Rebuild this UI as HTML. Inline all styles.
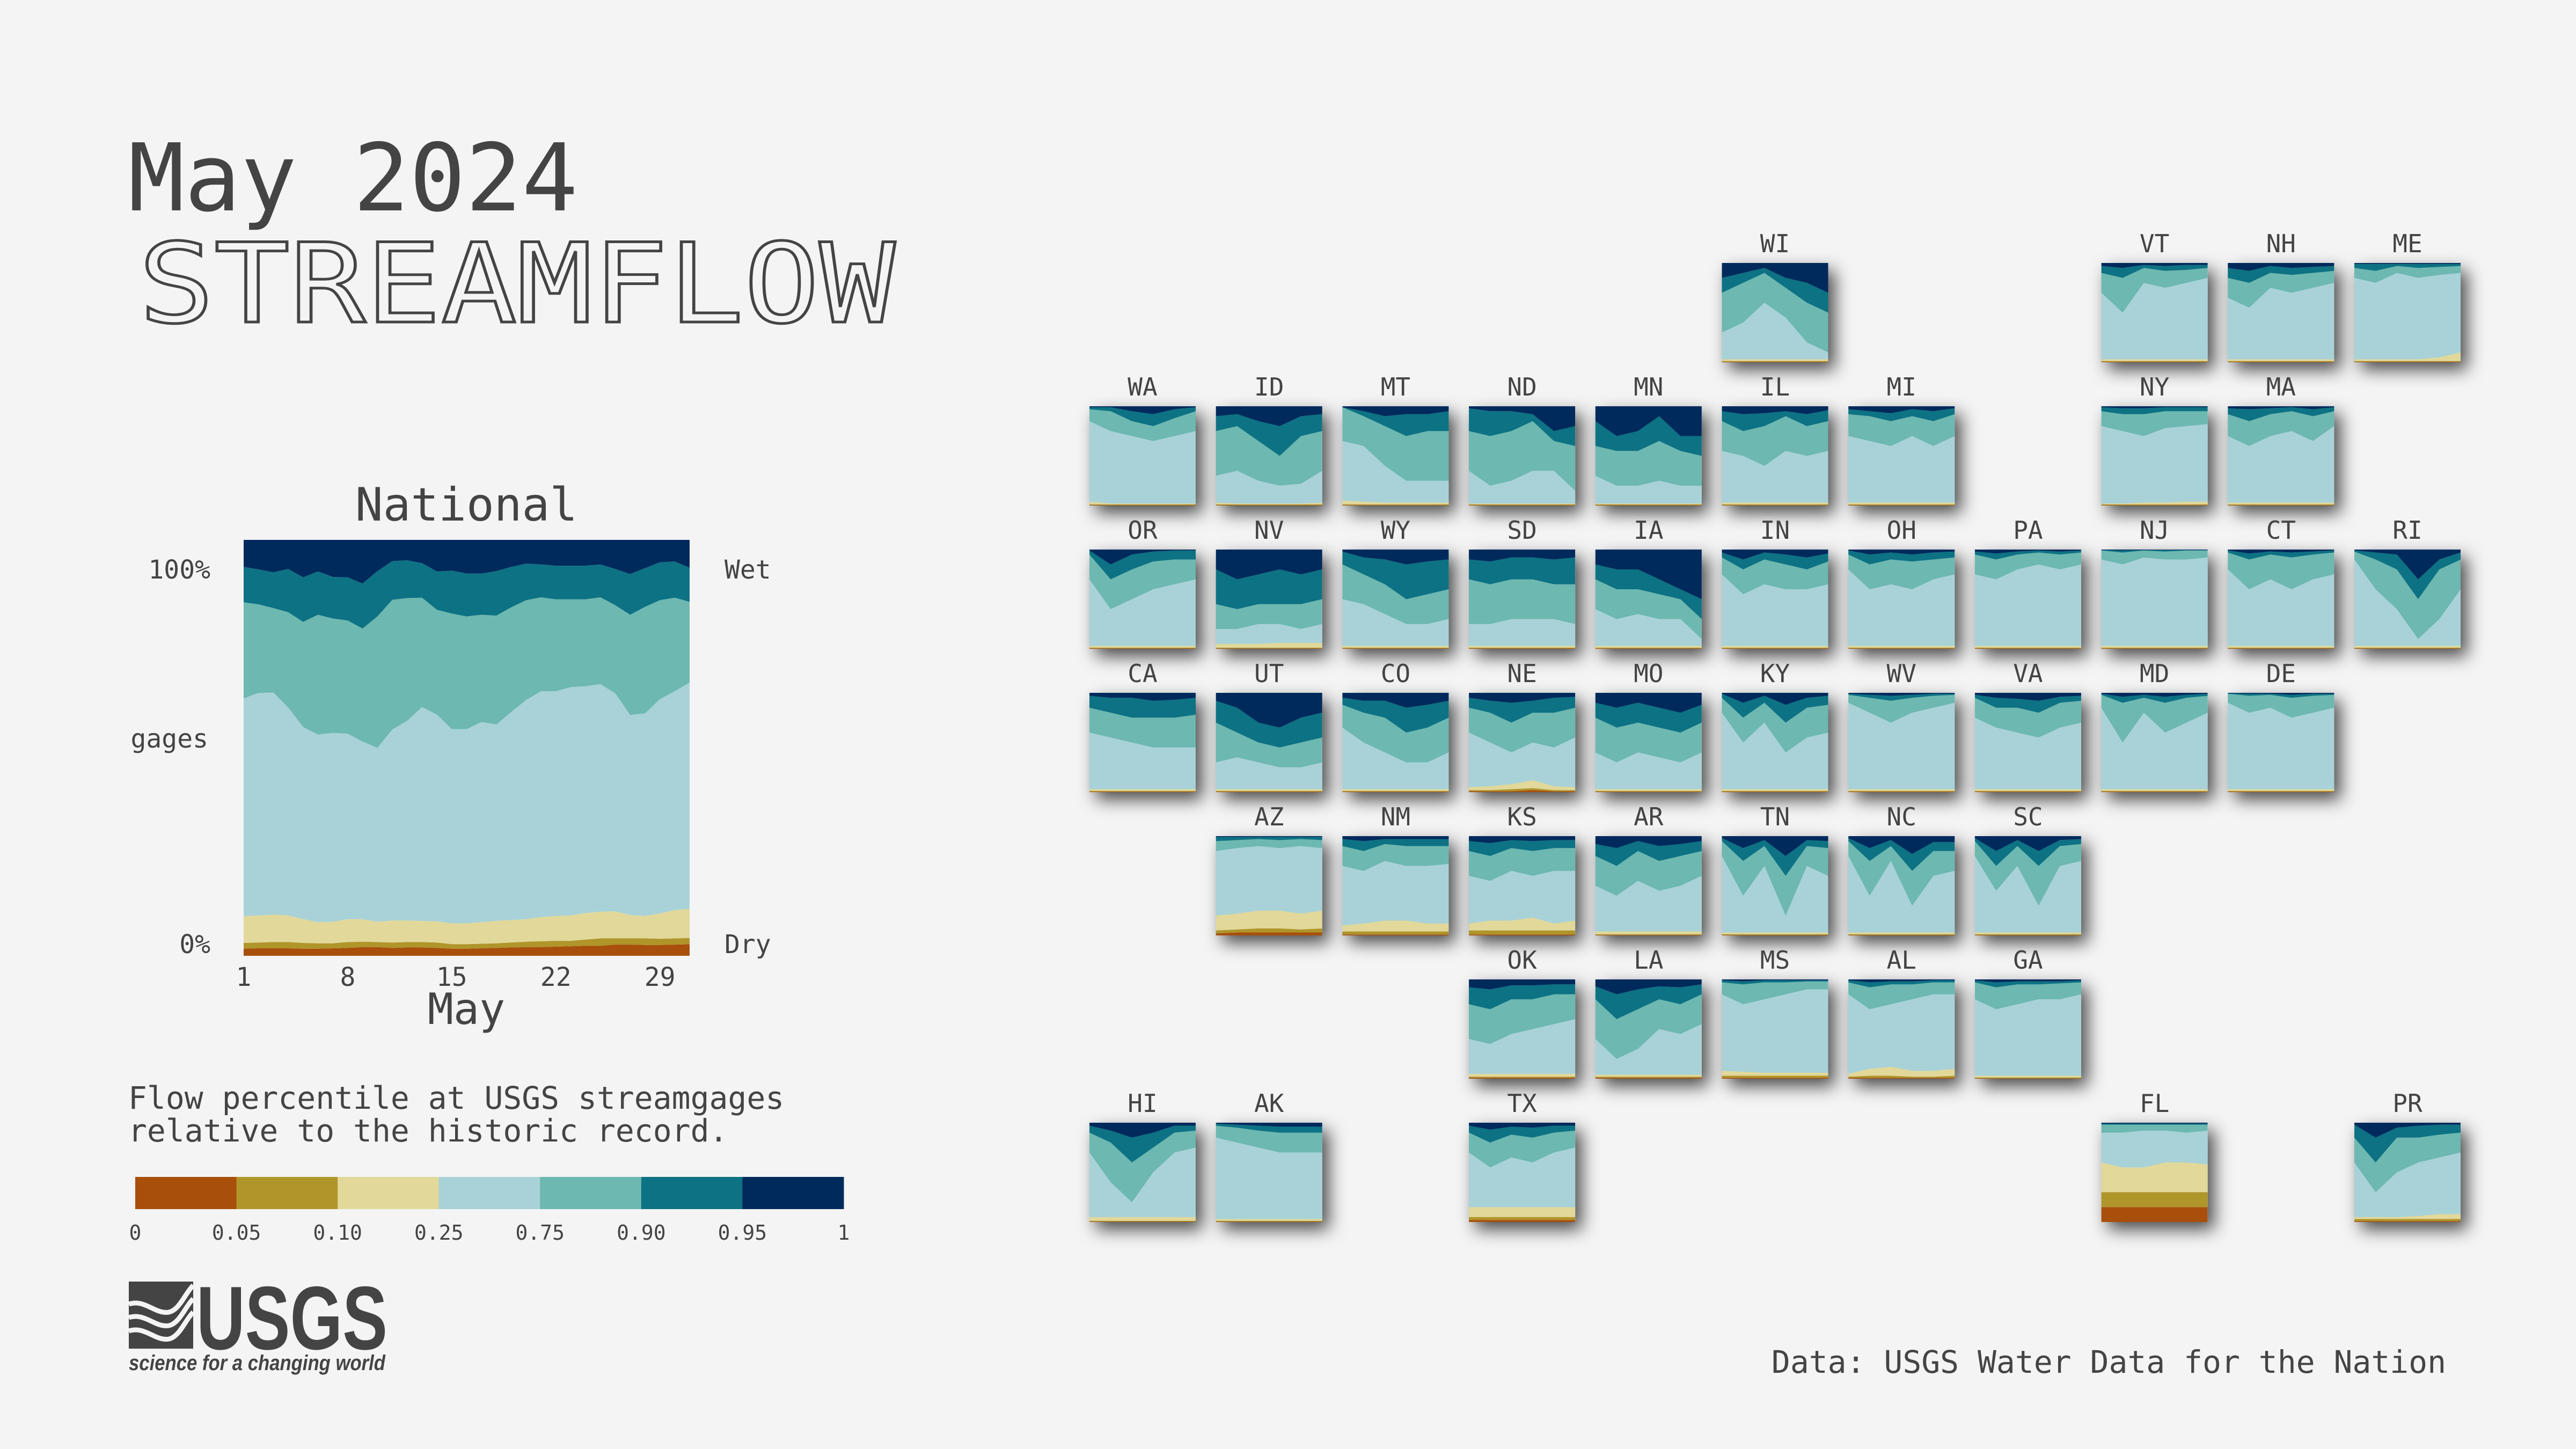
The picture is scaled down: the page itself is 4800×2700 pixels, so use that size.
<!DOCTYPE html>
<html><head><meta charset="utf-8"><style>
html,body{margin:0;padding:0;background:#f4f4f4;}
svg{display:block;}
text{font-family:"DejaVu Sans Mono","Liberation Mono",monospace;fill:#444;}
</style></head><body>
<svg id="root" width="4800" height="2700" viewBox="0 0 4800 2700" xmlns="http://www.w3.org/2000/svg">
<defs>
<filter id="sh" x="-30%" y="-30%" width="170%" height="170%">
<feDropShadow dx="12" dy="14" stdDeviation="16" flood-color="#000" flood-opacity="0.7"/>
</filter>
</defs>
<rect x="0" y="0" width="4800" height="2700" fill="#f4f4f4"/>
<text x="239" y="392" font-size="174">May 2024</text>
<text x="258" y="600" font-size="205" textLength="1410" lengthAdjust="spacingAndGlyphs" style="fill:none;stroke:#444;stroke-width:5">STREAMFLOW</text>
<g id="national"></g>
<text x="869" y="970" font-size="86" text-anchor="middle">National</text>
<text x="392" y="1078" font-size="48" text-anchor="end">100%</text>
<text x="388" y="1393" font-size="48" text-anchor="end">gages</text>
<text x="392" y="1776" font-size="48" text-anchor="end">0%</text>
<text x="1350" y="1078" font-size="48">Wet</text>
<text x="1350" y="1776" font-size="48">Dry</text>
<g id="xticks"></g>
<text x="869" y="1908" font-size="80" text-anchor="middle">May</text>
<text x="239" y="2066" font-size="58">Flow percentile at USGS streamgages</text>
<text x="239" y="2127" font-size="58">relative to the historic record.</text>
<g id="colorbar"></g>
<g>
<rect x="240" y="2388" width="120" height="125" fill="#444"/>
<path d="M240 2430 C270 2420 290 2450 315 2445 C335 2440 345 2410 360 2395 M240 2455 C270 2445 290 2475 315 2470 C335 2465 345 2435 360 2420 M240 2480 C270 2470 290 2500 315 2495 C335 2490 345 2460 360 2445" stroke="#f4f4f4" stroke-width="9" fill="none"/>
<text x="366" y="2514" font-size="168" font-weight="bold" textLength="356" lengthAdjust="spacingAndGlyphs" style="font-family:'Liberation Sans',sans-serif;">USGS</text>
<text x="240" y="2553" font-size="40" font-style="italic" font-weight="bold" textLength="478" lengthAdjust="spacingAndGlyphs" style="font-family:'Liberation Sans',sans-serif;">science for a changing world</text>
</g>
<text x="4558" y="2558" font-size="58" text-anchor="end">Data: USGS Water Data for the Nation</text>
<g id="tiles"></g>
</svg>
<script>
const NS="http://www.w3.org/2000/svg";
const colors=["#a84f0c","#b0952a","#e1d89a","#a8d2d8","#6db8b0","#0d7283","#002a5c"];
const classLabels=["0","0.05","0.10","0.25","0.75","0.90","0.95","1"];
const xTickDays=[1,8,15,22,29];
// National cumulative boundaries (% of gages) for days 1..31
const natB05=[1.7,1.8,1.8,1.8,1.7,1.7,1.8,1.9,2.1,2.1,1.9,2.0,2.0,1.9,1.7,1.7,1.8,1.9,2.0,2.1,2.1,2.2,2.3,2.4,2.4,2.7,2.7,2.6,2.6,2.7,2.8];
const natB10=[3.1,3.2,3.3,3.3,3.1,3.0,3.0,3.3,3.4,3.3,3.2,3.3,3.3,3.2,2.8,2.8,2.9,3.0,3.2,3.4,3.5,3.6,3.6,3.9,4.2,4.2,4.2,4.2,4.1,4.2,4.3];
const natB25=[9.5,9.7,9.9,9.7,8.8,8.1,8.2,8.8,8.8,8.2,8.5,8.5,8.4,8.3,7.8,7.8,8.1,8.4,8.6,8.8,9.3,9.6,9.7,10.3,10.6,10.7,9.8,9.6,10.2,11.0,11.3];
const natB75=[61.9,63.2,63.3,59.7,55.0,53.2,53.6,53.4,51.5,50.0,54.4,56.5,59.8,58.0,54.5,54.5,56.2,55.6,58.6,61.5,63.6,63.6,64.6,64.8,65.3,63.1,57.9,58.3,61.7,63.6,65.7];
const natB90=[85.0,84.5,83.6,82.6,80.3,82.0,81.1,80.6,78.7,81.6,85.6,86.0,86.1,83.2,82.3,81.6,82.0,81.8,83.8,85.5,86.2,85.7,85.7,85.7,86.2,84.3,82.0,83.9,85.5,86.1,85.1];
const natB95=[93.5,92.9,92.2,93.0,91.0,92.4,91.1,91.0,89.5,92.5,94.9,95.1,94.4,92.4,92.6,91.9,91.9,92.5,93.5,94.3,94.1,93.8,93.8,93.8,94.1,93.0,91.8,93.2,94.6,94.8,93.3];
const tileDays=[1,7,13,19,25,31];
const stateNames=["WI","VT","NH","ME","WA","ID","MT","ND","MN","IL","MI","NY","MA","OR","NV","WY","SD","IA","IN","OH","PA","NJ","CT","RI","CA","UT","CO","NE","MO","KY","WV","VA","MD","DE","AZ","NM","KS","AR","TN","NC","SC","OK","LA","MS","AL","GA","HI","AK","TX","FL","PR"];
const stateCols=[5,8,9,10,0,1,2,3,4,5,6,8,9,0,1,2,3,4,5,6,7,8,9,10,0,1,2,3,4,5,6,7,8,9,1,2,3,4,5,6,7,3,4,5,6,7,0,1,3,8,10];
const stateRows=[0,0,0,0,1,1,1,1,1,1,1,1,1,2,2,2,2,2,2,2,2,2,2,2,3,3,3,3,3,3,3,3,3,3,4,4,4,4,4,4,4,5,5,5,5,5,6,6,6,6,6];
const L=[0.5,0.5,0.5,0.5,0.5,0.5], M=[1.2,1.2,1.2,1.2,1.2,1.2], S=[3,3,3,3,3,3];
const stateData={
WI:[L,M,S,[30,40,60,45,20,10],[70,80,90,75,60,50],[85,90,95,85,80,70]],
VT:[L,M,S,[70,50,80,75,80,85],[90,85,95,92,93,95],[97,95,98,97,98,98]],
NH:[L,M,S,[65,55,75,70,75,80],[85,80,90,88,90,92],[95,92,97,95,96,97]],
ME:[L,M,[3,3,3,3,5,10],[85,80,90,85,88,90],[95,92,97,95,96,97],[99,99,99,99,99,99]],
WA:[L,M,[4,2,2,2,2,2],[85,75,70,65,70,75],[97,95,85,80,88,95],[99,99,95,92,97,99]],
ID:[L,M,[3,2,2,2,2,3],[30,35,25,20,22,35],[75,80,65,50,70,75],[90,92,85,80,90,92]],
MT:[L,M,[5,4,3,3,3,3],[65,60,40,25,25,25],[99,90,80,70,75,75],[99,95,90,92,92,95]],
ND:[L,M,[2,2,2,2,2,2],[35,20,25,35,35,15],[75,70,75,85,65,60],[98,95,95,92,75,80]],
MN:[L,M,[2,2,2,2,2,2],[30,20,20,25,20,20],[60,55,55,65,55,50],[85,70,75,90,70,70]],
IL:[L,M,S,[55,50,40,55,50,55],[85,75,80,90,80,85],[95,92,93,95,92,96]],
MI:[L,M,S,[70,65,60,70,60,70],[92,90,85,90,85,92],[97,95,93,97,95,98]],
NY:[L,M,[2,2,3,3,4,4],[80,75,70,78,80,82],[95,92,92,95,95,95],[99,98,98,99,99,99]],
MA:[L,M,S,[70,60,70,75,65,80],[92,85,92,95,90,95],[98,97,98,99,97,99]],
OR:[L,M,S,[70,40,50,60,65,70],[95,70,80,88,90,90],[99,85,95,98,99,99]],
NV:[L,M,[5,5,5,6,6,6],[20,20,25,25,20,25],[45,40,45,45,45,50],[80,70,75,80,75,80]],
WY:[L,M,S,[50,45,35,25,25,30],[85,75,65,50,55,60],[98,92,90,85,88,90]],
SD:[L,M,S,[25,25,30,30,30,25],[70,65,70,70,65,65],[90,88,92,92,90,92]],
IA:[L,M,S,[40,30,35,30,30,10],[70,60,60,55,50,30],[85,80,80,70,60,50]],
IN:[L,M,S,[75,55,65,60,60,65],[92,80,90,85,80,88],[97,90,97,95,92,96]],
OH:[L,M,S,[80,60,65,60,70,75],[95,85,90,88,90,92],[99,95,97,95,97,98]],
PA:[L,M,S,[75,70,80,85,80,85],[95,90,95,97,95,97],[98,96,98,99,98,99]],
NJ:[L,M,S,[90,85,92,90,90,92],[99,97,99,98,99,99],[99.5,99,99.5,99.5,99.5,99.5]],
CT:[L,M,S,[80,60,70,60,70,75],[97,90,95,92,95,97],[99,96,98,97,98,99]],
RI:[L,M,S,[90,60,40,10,30,60],[98,90,80,50,80,90],[99,97,95,70,90,97]],
CA:[L,M,S,[60,55,50,45,45,45],[85,80,75,75,75,78],[97,95,95,92,93,95]],
UT:[L,M,S,[30,35,30,25,25,30],[70,60,50,45,50,55],[92,85,70,65,75,80]],
CO:[L,M,S,[65,50,40,30,30,40],[88,80,75,60,65,75],[95,92,92,85,88,92]],
NE:[[1,1,1,2,1,1],[2,2,3,4,2,2],[5,6,8,12,6,5],[60,50,40,50,45,55],[85,80,70,80,80,85],[95,92,90,92,95,96]],
MO:[L,M,S,[40,30,40,35,30,40],[75,65,70,65,60,70],[90,85,90,85,80,88]],
KY:[L,M,S,[80,50,70,40,55,60],[95,75,90,70,85,88],[99,90,97,88,95,97]],
WV:[L,M,S,[90,80,70,80,85,90],[98,95,92,95,97,98],[99,98,97,98,99,99]],
VA:[L,M,S,[75,65,60,55,65,70],[95,85,85,80,90,92],[98,95,94,92,96,97]],
MD:[L,M,S,[85,50,80,60,70,80],[98,90,95,90,95,97],[99,96,98,96,98,99]],
DE:[L,M,S,[90,80,85,75,80,85],[99,97,98,95,97,98],[99.5,99,99,98,99,99]],
AZ:[[2,3,3,3,3,3],[5,6,7,7,6,7],[20,22,25,25,22,25],[85,88,90,88,90,88],[95,96,97,96,97,96],[99,99,99,99,99,99]],
NM:[[1,1,1,1,1,1],[4,4,4,4,4,4],[10,12,15,15,12,12],[70,65,75,70,70,72],[90,85,92,90,90,90],[97,95,97,97,97,97]],
KS:[[1,1,1,1,1,1],[5,5,5,5,5,5],[12,15,15,18,12,15],[60,55,65,60,65,65],[85,80,88,85,88,88],[95,93,96,95,96,96]],
AR:[L,M,[4,4,4,4,4,4],[50,40,55,45,50,60],[80,70,85,75,80,85],[92,88,95,90,92,95]],
TN:[L,M,S,[80,40,70,20,70,60],[95,75,90,60,90,88],[98,88,96,80,96,95]],
NC:[L,M,S,[80,40,75,30,60,65],[95,75,90,65,85,85],[98,88,96,82,94,94]],
SC:[L,M,S,[80,45,70,30,70,75],[95,70,90,70,90,92],[98,85,96,85,96,97]],
OK:[[1,1,1,1,1,1],[2,2,2,2,2,2],[5,5,5,5,5,5],[40,35,45,50,55,60],[75,70,80,80,85,85],[92,90,94,94,95,95]],
LA:[[1,1,1,1,1,1],[2,2,2,2,2,2],[4,4,4,4,4,4],[40,20,30,50,45,55],[80,60,70,80,75,85],[93,85,90,93,92,95]],
MS:[[1,1,1,1,1,1],[3,3,3,3,3,3],[8,7,6,6,6,6],[85,75,80,85,90,90],[97,95,97,97,98,98],[99,98,99,99,99,99]],
AL:[[1,1,1,1,1,1],[2,3,3,2,2,3],[5,10,12,8,8,10],[85,70,75,80,85,85],[97,92,95,95,97,97],[99,97,98,98,99,99]],
GA:[L,M,S,[80,70,75,80,80,85],[97,92,95,95,96,97],[99,97,98,98,98,99]],
HI:[L,M,[5,5,5,5,5,5],[70,40,20,50,70,75],[90,80,60,75,90,92],[97,92,85,90,97,97]],
AK:[L,M,S,[85,80,75,70,70,70],[97,95,92,90,90,90],[99,98,97,96,96,96]],
TX:[[2,2,2,2,2,2],[5,5,5,5,5,5],[15,15,15,15,15,15],[70,55,65,60,70,75],[90,80,88,85,90,92],[97,93,96,95,97,97]],
FL:[[15,15,15,15,15,15],[30,30,30,30,30,30],[60,55,55,60,60,58],[90,90,92,92,90,92],[98,98,98,98,98,98],[99,99,99,99,99,99]],
PR:[[1,1,1,1,1,1],[3,3,3,3,3,3],[5,5,5,6,8,8],[60,30,50,60,65,70],[85,60,85,85,88,90],[98,85,95,97,98,98]]
};
function mk(tag,attrs,parent){const e=document.createElementNS(NS,tag);for(const k in attrs)e.setAttribute(k,attrs[k]);parent.appendChild(e);return e;}
function stackPaths(g,days,bounds,sx,sy,prefix){
  const zero=days.map(()=>0), full=days.map(()=>100);
  const layers=[zero].concat(bounds).concat([full]);
  for(let i=0;i<7;i++){
    const lo=layers[i], hi=layers[i+1];
    let d="";
    days.forEach((dd,j)=>{d+=(j?"L":"M")+sx(dd).toFixed(1)+" "+sy(hi[j]).toFixed(1);});
    for(let j=days.length-1;j>=0;j--) d+="L"+sx(days[j]).toFixed(1)+" "+sy(lo[j]).toFixed(1);
    const p=mk("path",{d:d+"Z",fill:colors[i]},g);
    
    
  }
}
const natDays=natB05.map((_,i)=>i+1);
const nx0=454,nx1=1285,ny0=1781,ny1=1006;
const nsx=d=>nx0+(d-1)/30*(nx1-nx0);
const nsy=v=>ny0-v/100*(ny0-ny1);
stackPaths(document.getElementById("national"),natDays,[natB05,natB10,natB25,natB75,natB90,natB95],nsx,nsy,"national");
const xt=document.getElementById("xticks");
xTickDays.forEach(d=>{const t=mk("text",{x:nsx(d),y:1837,"font-size":48,"text-anchor":"middle"},xt);t.textContent=d;
  
  });
const cb=document.getElementById("colorbar");
const cbx0=252,cbx1=1572,cbw=(cbx1-cbx0)/7;
colors.forEach((c,i)=>{const r=mk("rect",{x:cbx0+i*cbw,y:2193,width:cbw+0.5,height:60,fill:c},cb);
  
  });
classLabels.forEach((l,i)=>{const t=mk("text",{x:cbx0+i*cbw,y:2310,"font-size":38,"text-anchor":"middle"},cb);t.textContent=l;
  
  });
const tg=document.getElementById("tiles");
const tw=198,th=185;
stateNames.forEach((s,k)=>{
  const x0=2030+stateCols[k]*235.7, y0=490+stateRows[k]*267;
  const g=mk("g",{},tg);
  
  
  const lab=mk("text",{x:x0+tw/2,y:y0-20,"font-size":46,"text-anchor":"middle"},g);lab.textContent=s;
  
  
  const bg=mk("rect",{x:x0,y:y0,width:tw,height:th,fill:"#a8d2d8",filter:"url(#sh)"},g);
  
  
  const sx=d=>x0+(d-1)/30*tw, sy=v=>y0+th-v/100*th;
  stackPaths(g,tileDays,stateData[s],sx,sy,"tile-"+s.toLowerCase());
});
</script>
</body></html>
